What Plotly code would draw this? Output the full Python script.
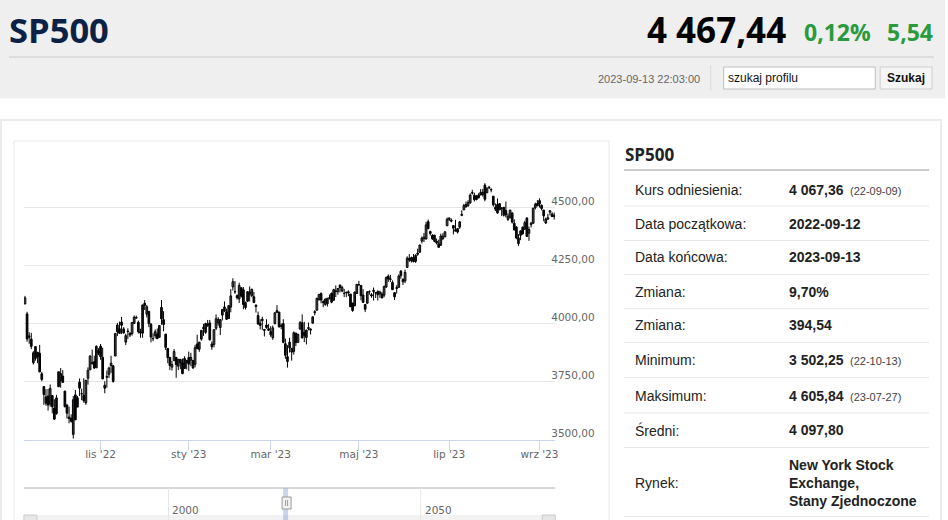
import pandas as pd
import plotly.graph_objects as go

W, H = 948, 520

# trading days 2022-09-12 .. 2023-09-13 (NYSE holidays removed)
holidays = ["2022-11-24", "2022-12-26", "2023-01-02", "2023-01-16", "2023-02-20",
            "2023-04-07", "2023-05-29", "2023-06-19", "2023-07-04", "2023-09-04"]
days = pd.bdate_range("2022-09-12", "2023-09-13")
days = days[~days.isin(pd.to_datetime(holidays))]
dates = days.strftime("%Y-%m-%d").tolist()

# daily OHLC, one line per month (Sep '22 .. Sep '23)
opens = [
    4084, 4041, 3940, 3932, 3830, 3849, 3875, 3871, 3782, 3727, 3682, 3686, 3651, 3688, 3634,
    3610, 3726, 3753, 3772, 3707, 3646, 3595, 3590, 3520, 3691, 3638, 3746, 3696, 3689, 3657, 3763, 3799, 3825, 3834, 3808, 3882,
    3901, 3853, 3733, 3767, 3780, 3818, 3817, 3859, 3964, 3977, 4006, 3976, 3919, 3967, 3957, 3956, 4000, 4023, 4005, 3964, 3958,
    4087, 4040, 4052, 3996, 3934, 3947, 3954, 3940, 4069, 4016, 3954, 3891, 3853, 3811, 3839, 3853, 3815, 3844, 3829, 3805, 3830,
    3853, 3841, 3840, 3823, 3911, 3888, 3932, 3977, 3961, 3999, 4002, 3911, 3909, 3979, 4002, 3982, 4036, 4054, 4050, 4021,
    4071, 4158, 4137, 4120, 4106, 4154, 4145, 4068, 4096, 4127, 4120, 4115, 4073, 4034, 4001, 4018, 3974, 3993, 3977,
    3964, 3938, 3999, 4055, 4049, 3987, 3999, 3912, 3835, 3894, 3876, 3879, 3958, 3918, 3976, 4003, 3960, 3939, 3982, 3975, 4001, 4046, 4057,
    4103, 4129, 4094, 4082, 4085, 4111, 4130, 4100, 4140, 4137, 4165, 4140, 4130, 4132, 4132, 4127, 4088, 4076, 4129,
    4167, 4164, 4123, 4082, 4087, 4136, 4124, 4143, 4133, 4138, 4127, 4127, 4122, 4157, 4204, 4190, 4177, 4133, 4155, 4156, 4226, 4190,
    4184, 4242, 4282, 4271, 4285, 4268, 4304, 4308, 4356, 4366, 4365, 4440, 4397, 4380, 4355, 4355, 4344, 4338, 4367, 4375, 4422,
    4450, 4442, 4423, 4405, 4395, 4416, 4467, 4491, 4514, 4509, 4521, 4563, 4554, 4550, 4543, 4555, 4558, 4598, 4565, 4585,
    4579, 4550, 4494, 4514, 4491, 4498, 4502, 4488, 4450, 4459, 4478, 4433, 4417, 4345, 4381, 4416, 4407, 4456, 4390, 4427, 4433, 4500, 4518,
    4531, 4510, 4490, 4434, 4451, 4481, 4473, 4462,
]
highs = [
    4119, 4050, 3962, 3959, 3880, 3901, 3877, 3907, 3790, 3728, 3716, 3717, 3736, 3688, 3672,
    3691, 3791, 3807, 3798, 3709, 3652, 3640, 3607, 3686, 3712, 3686, 3762, 3718, 3763, 3757, 3810, 3862, 3887, 3860, 3905, 3893,
    3911, 3895, 3750, 3796, 3813, 3860, 3819, 3959, 4002, 4008, 4028, 3984, 3955, 3979, 3962, 4005, 4034, 4034, 4012, 3977, 4080,
    4101, 4080, 4053, 4002, 3957, 3974, 3978, 3991, 4101, 4053, 3954, 3894, 3854, 3838, 3889, 3853, 3846, 3847, 3848, 3858, 3840,
    3878, 3873, 3840, 3907, 3951, 3920, 3970, 3998, 4003, 4015, 4015, 3922, 3973, 4039, 4027, 4019, 4061, 4095, 4064, 4077,
    4148, 4195, 4183, 4125, 4176, 4156, 4157, 4095, 4139, 4160, 4149, 4136, 4082, 4051, 4018, 4029, 3975, 4018, 3997,
    3988, 3991, 4048, 4079, 4050, 4000, 4018, 3934, 3906, 3938, 3894, 3965, 3959, 3956, 4010, 4039, 4007, 3973, 4004, 3979, 4031, 4057, 4110,
    4128, 4134, 4100, 4108, 4110, 4125, 4134, 4150, 4164, 4152, 4169, 4163, 4149, 4138, 4143, 4127, 4089, 4138, 4170,
    4184, 4164, 4148, 4083, 4140, 4143, 4131, 4155, 4133, 4143, 4141, 4136, 4164, 4203, 4212, 4210, 4186, 4133, 4165, 4212, 4231, 4195,
    4232, 4290, 4300, 4289, 4300, 4299, 4323, 4340, 4376, 4391, 4439, 4449, 4401, 4386, 4382, 4367, 4362, 4388, 4390, 4398, 4458,
    4457, 4454, 4423, 4448, 4412, 4443, 4489, 4517, 4527, 4533, 4562, 4578, 4565, 4555, 4563, 4581, 4582, 4606, 4590, 4595,
    4585, 4551, 4519, 4540, 4519, 4503, 4503, 4527, 4476, 4491, 4478, 4450, 4421, 4386, 4402, 4419, 4444, 4458, 4419, 4439, 4500, 4522, 4533,
    4541, 4515, 4491, 4457, 4474, 4490, 4481, 4479,
]
lows = [
    4084, 3921, 3912, 3889, 3822, 3839, 3828, 3790, 3750, 3648, 3644, 3623, 3640, 3611, 3584,
    3605, 3726, 3722, 3744, 3637, 3589, 3568, 3571, 3502, 3583, 3638, 3686, 3668, 3657, 3648, 3735, 3799, 3824, 3803, 3808, 3863,
    3843, 3759, 3698, 3722, 3764, 3786, 3744, 3859, 3945, 3957, 3954, 3955, 3906, 3933, 3941, 3947, 3998, 4020, 3956, 3938, 3938,
    4058, 4026, 3984, 3918, 3923, 3935, 3934, 3938, 3994, 3966, 3885, 3828, 3798, 3796, 3838, 3765, 3798, 3802, 3780, 3805, 3801,
    3795, 3815, 3803, 3810, 3888, 3877, 3925, 3946, 3955, 3985, 3926, 3886, 3897, 3971, 3990, 3950, 4013, 4049, 4015, 4021,
    4048, 4142, 4128, 4103, 4088, 4112, 4061, 4060, 4092, 4095, 4113, 4089, 4047, 3996, 3974, 3972, 3944, 3977, 3968,
    3942, 3929, 3996, 4045, 3981, 3975, 3914, 3847, 3809, 3874, 3839, 3865, 3902, 3917, 3972, 3936, 3919, 3909, 3970, 3952, 3999, 4035, 4056,
    4098, 4087, 4070, 4076, 4073, 4103, 4087, 4100, 4114, 4124, 4134, 4135, 4114, 4113, 4118, 4072, 4050, 4075, 4127,
    4162, 4100, 4089, 4049, 4087, 4124, 4111, 4099, 4110, 4099, 4111, 4109, 4113, 4154, 4180, 4179, 4144, 4101, 4129, 4155, 4193, 4166,
    4174, 4241, 4266, 4263, 4264, 4262, 4292, 4305, 4346, 4352, 4363, 4407, 4380, 4361, 4351, 4342, 4328, 4336, 4360, 4372, 4422,
    4443, 4437, 4385, 4398, 4389, 4409, 4464, 4491, 4499, 4504, 4518, 4557, 4527, 4532, 4541, 4555, 4548, 4528, 4564, 4583,
    4567, 4505, 4486, 4474, 4491, 4464, 4462, 4458, 4443, 4453, 4432, 4403, 4364, 4335, 4360, 4383, 4407, 4375, 4357, 4415, 4431, 4493, 4508,
    4501, 4489, 4442, 4430, 4448, 4467, 4460, 4449,
]
closes = [
    4110, 3933, 3946, 3901, 3873, 3900, 3856, 3790, 3758, 3693, 3655, 3647, 3719, 3640, 3586,
    3678, 3791, 3783, 3745, 3640, 3612, 3589, 3577, 3670, 3583, 3678, 3720, 3695, 3666, 3753, 3797, 3859, 3831, 3807, 3901, 3872,
    3856, 3760, 3720, 3771, 3807, 3828, 3749, 3956, 3993, 3957, 3992, 3959, 3947, 3965, 3950, 4004, 4027, 4026, 3964, 3958, 4080,
    4077, 4072, 3999, 3941, 3934, 3964, 3934, 3991, 4020, 3995, 3896, 3852, 3818, 3822, 3878, 3822, 3845, 3829, 3783, 3849, 3840,
    3824, 3853, 3808, 3895, 3892, 3919, 3970, 3983, 3999, 3991, 3929, 3899, 3973, 4020, 4017, 4016, 4060, 4071, 4018, 4077,
    4119, 4180, 4136, 4111, 4164, 4118, 4082, 4090, 4137, 4136, 4148, 4090, 4079, 3997, 3991, 4012, 3970, 3982, 3970,
    3951, 3981, 4046, 4048, 3986, 3992, 3918, 3862, 3856, 3919, 3892, 3960, 3917, 3952, 4003, 3937, 3949, 3971, 3978, 3971, 4028, 4051, 4109,
    4125, 4101, 4090, 4105, 4109, 4109, 4092, 4146, 4138, 4151, 4155, 4155, 4130, 4134, 4137, 4072, 4056, 4135, 4169,
    4168, 4120, 4091, 4061, 4136, 4138, 4119, 4138, 4131, 4124, 4136, 4110, 4159, 4198, 4192, 4193, 4146, 4115, 4151, 4205, 4206, 4180,
    4221, 4282, 4274, 4284, 4268, 4294, 4299, 4339, 4369, 4373, 4426, 4410, 4389, 4366, 4382, 4348, 4329, 4378, 4377, 4396, 4450,
    4456, 4447, 4412, 4399, 4410, 4439, 4472, 4510, 4505, 4523, 4555, 4566, 4535, 4536, 4555, 4567, 4567, 4537, 4582, 4589,
    4577, 4513, 4502, 4478, 4518, 4499, 4468, 4469, 4464, 4490, 4438, 4404, 4370, 4370, 4400, 4388, 4436, 4376, 4406, 4433, 4498, 4515, 4508,
    4516, 4497, 4465, 4451, 4457, 4487, 4462, 4467,
]

x_tick_dates = ["2022-11-01", "2023-01-03", "2023-03-01", "2023-05-01", "2023-07-03", "2023-09-01"]
x_tick_text = ["lis '22", "sty '23", "mar '23", "maj '23", "lip '23", "wrz '23"]
y_tick_vals = [3500, 3750, 4000, 4250, 4500, 4750]
y_tick_text = ["3500,00", "3750,00", "4000,00", "4250,00", "4500,00", ""]

# side table
row_labels = ["Kurs odniesienia:", "Data początkowa:", "Data końcowa:", "Zmiana:", "Zmiana:",
              "Minimum:", "Maksimum:", "Średni:", "Rynek:"]
row_values = ["4 067,36", "2022-09-12", "2023-09-13", "9,70%", "394,54",
              "3 502,25", "4 605,84", "4 097,80", "New York Stock<br>Exchange,<br>Stany Zjednoczone"]
row_notes = ["(22-09-09)", "", "", "", "", "(22-10-13)", "(23-07-27)", "", ""]
row_centers = [190, 224, 257, 292, 325, 360, 396, 430, 483]
row_lines = [206, 240.5, 274.5, 308.7, 342.5, 377.5, 413, 447.5, 516.5]


def px(x):
    return x / W


def py(y):
    return 1 - y / H


shapes = []
annotations = []


def rect(x0, y0, x1, y1, fill="rgba(0,0,0,0)", line=None, lw=1):
    shapes.append(dict(type="rect", xref="paper", yref="paper",
                       x0=px(x0), x1=px(x1), y0=py(y1), y1=py(y0), fillcolor=fill,
                       line=dict(color=line or "rgba(0,0,0,0)", width=lw if line else 0),
                       layer="below"))


def hline(x0, x1, y, color, lw=1):
    shapes.append(dict(type="line", xref="paper", yref="paper", x0=px(x0), x1=px(x1),
                       y0=py(y), y1=py(y), line=dict(color=color, width=lw)))


def vline(x, y0, y1, color, lw=1):
    shapes.append(dict(type="line", xref="paper", yref="paper", x0=px(x), x1=px(x),
                       y0=py(y0), y1=py(y1), line=dict(color=color, width=lw)))


def text(x, y, s, size, color="#222", family="Liberation Sans", anchor="left"):
    annotations.append(dict(x=px(x), y=py(y), xref="paper", yref="paper", text=s,
                            showarrow=False, xanchor=anchor, yanchor="middle", borderpad=0,
                            align="left", font=dict(family=family, size=size, color=color)))


# header band
rect(0, 0, W, 98.5, fill="#efefef")
hline(9, 937, 57, "#d9d9d9", 1.5)
text(8, 29, "<b>SP500</b>", 34.5, "#0b2246", "Open Sans")
text(789, 29, "<b>4 467,44</b>", 35, "#000000", "Open Sans", "right")
text(806, 32, "<b>0,12%</b>", 23, "#2a9a3c", "Open Sans")
text(889, 32, "<b>5,54</b>", 23, "#2a9a3c", "Open Sans")
text(703, 79, "2023-09-13 22:03:00", 11, "#666666", anchor="right")
vline(713, 65, 91, "#dcdcdc")
rect(726, 67, 878, 89, fill="#ffffff", line="#bdbdbd")
text(729, 78, "szukaj profilu", 12, "#111111")
rect(883, 67, 935, 89, fill="#f5f5f5", line="#cfcfcf")
text(909, 78, "<b>Szukaj</b>", 12, "#111111", anchor="center")

# card and chart box
rect(1, 120, 944, 540, fill="#ffffff", line="#ebebeb", lw=2)
rect(14, 141, 611, 540, line="#e8e8e8")

# table
text(626, 154, "<b>SP500</b>", 17, "#222222", "Open Sans")
hline(626, 932, 170, "#9a9a9a")
for lab, val, note, yc in zip(row_labels, row_values, row_notes, row_centers):
    text(636, yc, lab, 14, "#222222")
    text(790, yc, "<b>" + val + "</b>", 14, "#222222")
    if note:
        text(852, yc + 1, note, 11, "#444444")
for yl in row_lines:
    hline(626, 932, yl, "#e6e6e6")

# navigator + scrollbar (collapsed)
hline(24, 557, 488, "#b0b0b0")
vline(169, 488, 520, "#e6e6e6")
vline(422, 488, 520, "#e6e6e6")
text(172, 510, "2000", 10.5, "#666666", "DejaVu Sans")
text(425, 510, "2050", 10.5, "#666666", "DejaVu Sans")
rect(24, 515, 557, 522, fill="#f2f2f2")
rect(24, 515, 37, 525, fill="#e6e6e6", line="#cccccc")
rect(544, 515, 557, 525, fill="#e6e6e6", line="#cccccc")
rect(284, 488, 289, 520, fill="rgba(102,133,194,0.35)")
rect(283, 497, 292, 509, fill="#f2f2f2", line="#999999")
vline(286.5, 500, 506, "#999999")
vline(288.5, 500, 506, "#999999")

# candles: wicks as one broken line, bodies as floating bars
wick_x, wick_y = [], []
for d, lo, hi in zip(dates, lows, highs):
    wick_x += [d, d, None]
    wick_y += [lo, hi, None]

up = [c >= o for o, c in zip(opens, closes)]
up_x = [d for d, u in zip(dates, up) if u]
up_base = [o for o, u in zip(opens, up) if u]
up_len = [c - o for o, c, u in zip(opens, closes, up) if u]
dn_x = [d for d, u in zip(dates, up) if not u]
dn_base = [c for c, u in zip(closes, up) if not u]
dn_len = [o - c for o, c, u in zip(opens, closes, up) if not u]

fig = go.Figure()
fig.add_trace(go.Scatter(x=wick_x, y=wick_y, mode="lines", line=dict(color="#000000", width=1),
                         hoverinfo="skip", showlegend=False))
fig.add_trace(go.Bar(x=up_x, y=up_len, base=up_base, width=0.8,
                     marker=dict(color="#ffffff", line=dict(color="#000000", width=1)),
                     showlegend=False))
fig.add_trace(go.Bar(x=dn_x, y=dn_len, base=dn_base, width=0.8,
                     marker=dict(color="#0d1b36", line=dict(color="#000000", width=1)),
                     showlegend=False))

fig.update_layout(
    width=W, height=H, margin=dict(l=0, r=0, t=0, b=0),
    paper_bgcolor="#ffffff", plot_bgcolor="#ffffff", barmode="overlay",
    shapes=shapes, annotations=annotations, showlegend=False,
    xaxis=dict(
        type="category", categoryorder="array", categoryarray=dates,
        domain=[px(24), px(557)], range=[-0.5, 252.5], showgrid=False,
        showline=True, linecolor="#ccd6eb", linewidth=1,
        ticks="outside", ticklen=9, tickcolor="#ccd6eb", ticklabelstandoff=-4,
        tickvals=x_tick_dates, ticktext=x_tick_text,
        tickfont=dict(family="DejaVu Sans", size=10.5, color="#666666"),
    ),
    yaxis=dict(
        domain=[py(439.5), py(149.5)], range=[3498, 4752], side="right",
        tickvals=y_tick_vals, ticktext=y_tick_text,
        showgrid=True, gridcolor="#e6e6e6", gridwidth=1, zeroline=False,
        ticks="", ticklabelstandoff=-5, ticklabelshift=-6,
        tickfont=dict(family="DejaVu Sans", size=10.5, color="#666666"),
    ),
)

fig.write_html(
    "out.html",
    config={"displayModeBar": False},
    post_script=(
        "document.documentElement.style.margin='0';"
        "document.documentElement.style.overflow='hidden';"
        "document.body.style.margin='0';document.body.style.padding='0';"
        "document.body.style.overflow='hidden';document.body.style.height='520px';"
        "var p=document.getElementById('{plot_id}').parentElement;"
        "p.style.height='520px';p.style.overflow='hidden';"
    ),
)
